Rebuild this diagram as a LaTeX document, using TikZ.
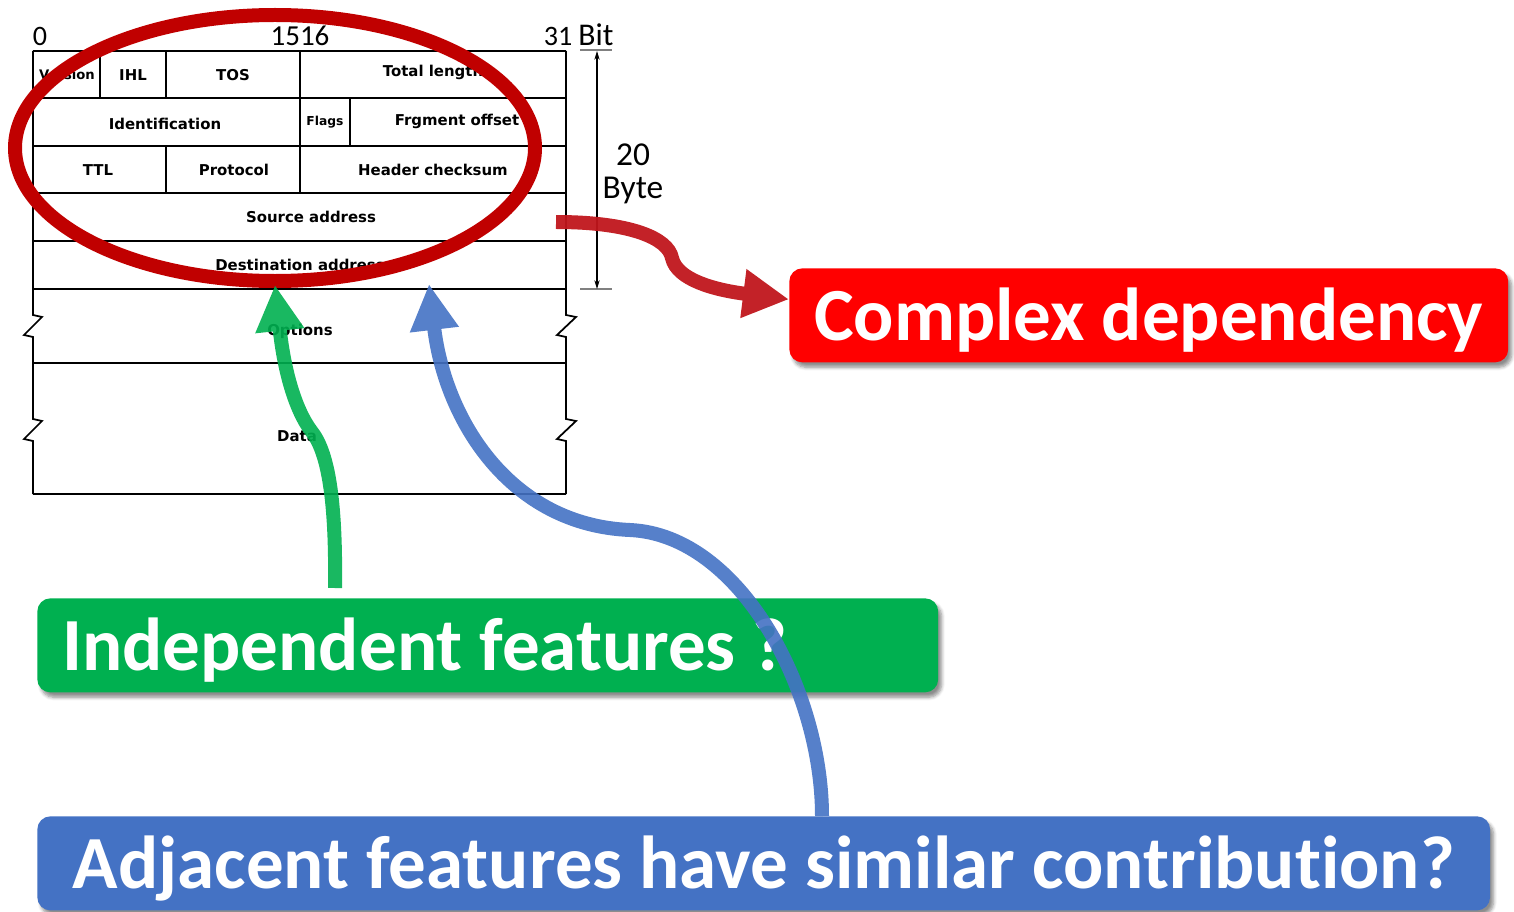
\documentclass[tikz,border=0pt]{standalone}
\usepackage{fontspec}
\setmainfont{Carlito}[Ligatures=NoCommon]
\newfontfamily\pktfont{DejaVu Sans}
\usetikzlibrary{arrows.meta,shadows.blur,positioning,calc}

\definecolor{ovalred}{HTML}{C00000}
\definecolor{arrred}{HTML}{C0161C}
\definecolor{boxred}{HTML}{FF0000}
\definecolor{boxgreen}{HTML}{00B050}
\definecolor{boxblue}{HTML}{4472C4}

\tikzset{
  pkt/.style={font=\pktfont\bfseries\fontsize{8.5}{10}\selectfont, inner sep=0pt},
  bitnum/.style={font=\fontsize{16}{18}\selectfont, inner sep=0pt},
  callout/.style={rounded corners=0.26cm, text=white, inner sep=0pt,
    font=\bfseries\fontsize{42.7}{46}\selectfont, minimum height=1.88cm,
    text height=1.3cm, text depth=0.3cm,
    blur shadow={shadow xshift=0.07cm, shadow yshift=-0.1cm, shadow blur steps=6, shadow opacity=45}},
  fatarrow/.style={line width=0.28cm, -{Triangle[length=0.92cm,width=0.92cm]}},
}

\begin{document}
\begin{tikzpicture}
 \begin{scope}[x=0.02cm,y=-0.02cm]
  \useasboundingbox (0,0) rectangle (1514,912);
  % packet header
  \draw[line width=1pt] (33,51) -- (33,315) -- (42,317) -- (24,335) -- (33,337)
     -- (33,419) -- (42,421) -- (24,439) -- (33,441) -- (33,494);
  \draw[line width=1pt] (566,51) -- (566,315) -- (576,317) -- (557,335) -- (566,337)
     -- (566,419) -- (576,421) -- (557,439) -- (566,441) -- (566,494);
  \foreach \y in {51,98,146,193,241,289,363,494}
    \draw[line width=1pt] (33,\y) -- (566,\y);
  \foreach \x/\ya/\yb in {100/51/98, 166/51/98, 300/51/98, 300/98/146,
      350/98/146, 166/146/193, 300/146/193}
    \draw[line width=1pt] (\x,\ya) -- (\x,\yb);

  \node[pkt, font=\pktfont\bfseries\fontsize{7.5}{9}\selectfont] (version) at (67,75) {Version};
  \node[pkt] (ihl) at (133,75) {IHL};
  \node[pkt] (tos) at (233,75) {TOS};
  \node[pkt] (totlen) at (433,72) {Total length};
  \node[pkt] (ident) at (165,124) {Identification};
  \node[pkt, font=\pktfont\bfseries\fontsize{7}{9}\selectfont] (flags) at (325,122) {Flags};
  \node[pkt] (frag) at (457,121) {Frgment offset};
  \node[pkt] (ttl) at (98,170) {TTL};
  \node[pkt] (proto) at (234,170) {Protocol};
  \node[pkt] (cksum) at (433,170) {Header checksum};
  \node[pkt] (src) at (311,217) {Source address};
  \node[pkt] (dst) at (300,265) {Destination address};
  \node[pkt] (opts) at (300,331) {Options};
  \node[pkt] (data) at (297,436) {Data};

  \node[bitnum] (b0) at (40,36) {0};
  \node[bitnum, font=\fontsize{16.5}{18}\selectfont] (b15) at (300,36) {1516};
  \node[bitnum] (b31) at (558,36) {31};
  \node[bitnum, font=\fontsize{18}{20}\selectfont] (bit) at (596,35) {Bit};
  \node[bitnum, font=\fontsize{19}{19}\selectfont, align=center] (hdrlen) at (633,174) {20\\Byte};

  \coordinate (dimtop) at (597,51);
  \coordinate (dimbot) at (597,289);
  \draw[gray, line width=0.8pt] (580,50) -- (612,50) (580,289) -- (612,289);
  \draw[line width=0.6pt, {Stealth[length=5pt,width=3pt]}-{Stealth[length=5pt,width=3pt]}]
    (dimtop) -- (dimbot);

  % oval around the fixed header
  \draw[ovalred, line width=0.28cm] (275,148) ellipse [x radius=260, y radius=133];

  % callouts
  \node[callout, fill=boxred, minimum width=14.38cm, anchor=north west] (dep) at (789,268) {Complex dependency};
  \node[callout, fill=boxgreen, minimum width=18.02cm, anchor=north west] (indep) at (37,598)
    {\makebox[17.02cm][l]{Independent features ?}};

  \coordinate (redstart) at (556,222);
  \coordinate (greenstart) at (335,588);
  \coordinate (greentip) at (275,285);
  \coordinate (bluestart) at (822,816);
  \coordinate (bluetip) at (429,284);

  \begin{scope}[transparency group, opacity=0.95]
   \draw[fatarrow, arrred] (redstart) .. controls (630,222) and (668,238) .. (672,258)
     .. controls (677,280) and (715,290) .. ($(dep.west)+(0,-16)$);
  \end{scope}
  \begin{scope}[transparency group, opacity=0.9]
   \draw[fatarrow, boxgreen] (greenstart) .. controls (336,510) and (330,455) .. (312,432)
     .. controls (295,410) and (284,370) .. (greentip);
  \end{scope}
  \begin{scope}[transparency group, opacity=0.9]
   \draw[fatarrow, boxblue] (bluestart) .. controls (822,690) and (740,535) .. (630,530)
     .. controls (510,525) and (445,420) .. (bluetip);
  \end{scope}

  \node[callout, fill=boxblue, minimum width=29.06cm, anchor=north west] (adj) at (37,816)
    {Adjacent features have similar contribution?};
 \end{scope}
\end{tikzpicture}
\end{document}
